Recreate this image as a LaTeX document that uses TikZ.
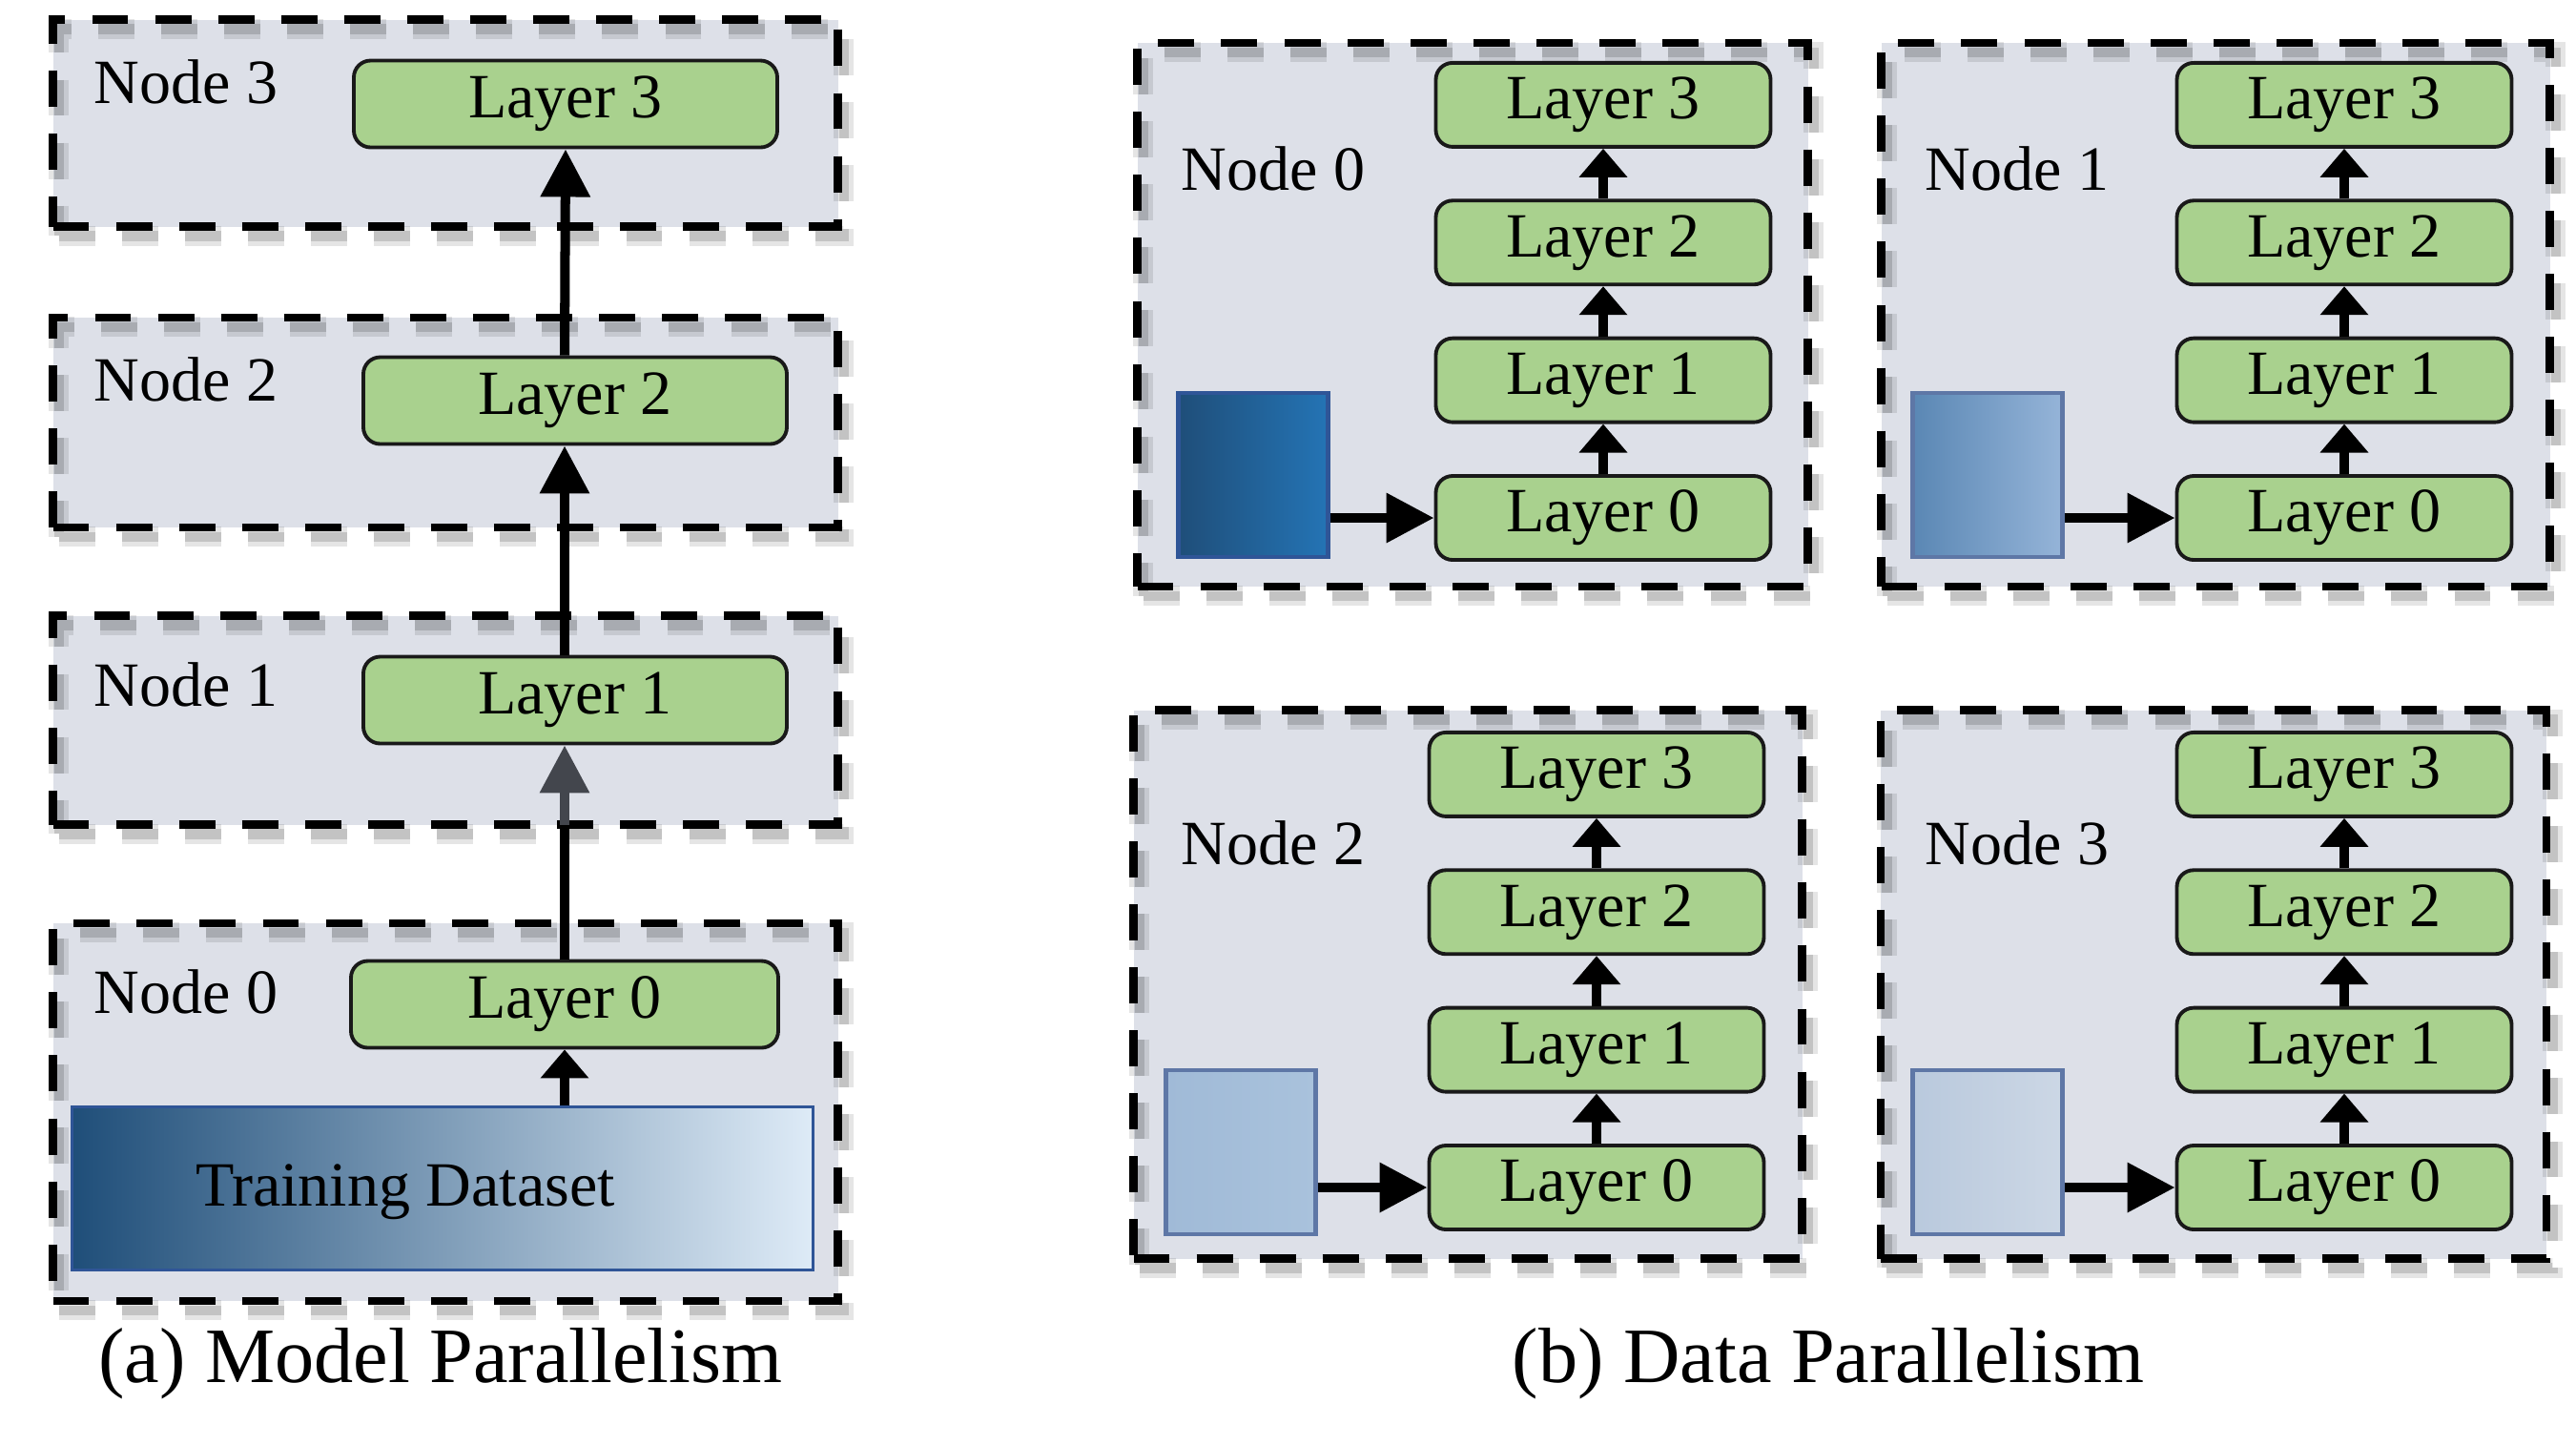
\documentclass[tikz,border=0pt]{standalone}
\usepackage{fontspec}
\setmainfont{Liberation Serif}
\usepackage{xcolor}
\usepackage{tikz}
\usetikzlibrary{arrows.meta}
\usetikzlibrary{calc}
\usetikzlibrary{positioning}
\definecolor{boxgray}{HTML}{DDE0E8}
\definecolor{layergreen}{HTML}{A9D18E}
\definecolor{arrowgray}{HTML}{43464D}
\definecolor{dsdark}{HTML}{1F4E79}
\definecolor{dsmid}{HTML}{9DC3E6}
\definecolor{dslight}{HTML}{DEEBF7}
\definecolor{dsborder}{HTML}{2F5597}
\definecolor{blkborder}{HTML}{5E77A6}
\definecolor{blk0}{HTML}{2474B5}
\definecolor{blk1a}{HTML}{5A87B4}
\definecolor{blk1b}{HTML}{5E8FBF}
\definecolor{blk1c}{HTML}{95B4D8}
\definecolor{blk2a}{HTML}{A0BAD7}
\definecolor{blk2b}{HTML}{A9C2DC}
\definecolor{blk3a}{HTML}{B9C9DD}
\definecolor{blk3b}{HTML}{CCD7E5}
\tikzset{
	parpic/.style = {
		font=\fontsize{18.8}{22}\selectfont, node distance=0.525cm,
	},
	nodebox/.style 2 args = {
		draw=black, line width=2.4pt, dash pattern=on 10.8pt off 8pt,
		preaction={fill=boxgray},
		preaction={draw=black, draw opacity=.1, line width=6pt, dash pattern=on 10.8pt off 8pt,
			transform canvas={shift={(1.8pt,-2.8pt)}}},
		preaction={draw=black, draw opacity=.15, line width=3pt, dash pattern=on 10.8pt off 8pt,
			transform canvas={shift={(1.8pt,-2.8pt)}}},
		minimum width=#1, minimum height=#2, inner sep=0pt,
	},
	layerbox/.style = {
		draw=black!90, fill=layergreen, line width=1.1pt, rounded corners=5pt,
		minimum width=#1, minimum height=0.88cm, inner sep=2pt,
	},
	datablock/.style 2 args = {
		draw=#1, line width=1.2pt, minimum width=1.57cm, minimum height=1.72cm, inner sep=0pt, #2,
	},
	longarrow/.style = {-{Triangle[length=0.5cm,width=0.5cm]}, line width=2.85pt},
	shortarrow/.style = {-{Triangle[length=0.3cm,width=0.49cm]}, line width=2.85pt},
}

\begin{document}
\begin{tikzpicture}[parpic]
	\useasboundingbox (0,0) rectangle (27.01,-15.14);
	% (a) model parallelism
	\node[nodebox={8.23cm}{2.17cm}] (mn3) at (4.67,-1.29) {};
	\node[nodebox={8.23cm}{2.20cm}] (mn2) at (4.67,-4.43) {};
	\node[nodebox={8.23cm}{2.19cm}] (mn1) at (4.67,-7.55) {};
	\node[nodebox={8.23cm}{3.96cm}] (mn0) at (4.67,-11.66) {};
	\node (mt3) at (1.95,-0.86) {Node 3};
	\node (mt2) at (1.95,-3.98) {Node 2};
	\node (mt1) at (1.95,-7.18) {Node 1};
	\node (mt0) at (1.95,-10.40) {Node 0};
	\node[layerbox=4.44cm, minimum height=0.91cm] (ml3) at (5.93,-1.09) {Layer 3};
	\node[layerbox=4.44cm, minimum height=0.91cm] (ml2) at (6.03,-4.20) {Layer 2};
	\node[layerbox=4.44cm, minimum height=0.91cm] (ml1) at (6.03,-7.34) {Layer 1};
	\node[layerbox=4.48cm, minimum height=0.91cm] (ml0) at (5.92,-10.53) {Layer 0};
	\node[draw=dsborder, line width=1.1pt, left color=dsdark, middle color=dsmid, right color=dslight,
		minimum width=7.77cm, minimum height=1.71cm,
		label={[xshift=-0.39cm, yshift=-0.04cm]center:Training Dataset}] (ds) at (4.64,-12.46) {};
	
	\draw[shortarrow] (ds.north -| ml0.south) -- (ml0.south);
	\coordinate (g1) at ($(ml0.north |- mn1.south)+(0,0.04)$);
	\draw[line width=2.85pt] (ml0.north) -- (g1);
	\draw[longarrow, arrowgray] (g1) -- (ml1.south -| ml0.north);
	\draw[longarrow] (ml1.north -| ml0.north) -- (ml2.south -| ml0.north);
	\draw[longarrow] (ml2.north -| ml0.north) -- (ml3.south);
	\node[font=\fontsize{23.4}{28}\selectfont] (capa) at (4.62,-14.30) {(a) Model Parallelism};
	
	% (b) data parallelism
	\node[nodebox={7.03cm}{5.70cm}] (b0) at (15.44,-3.30) {};
	\node[nodebox={7.01cm}{5.70cm}] (b1) at (23.23,-3.30) {};
	\node[nodebox={7.01cm}{5.75cm}] (b2) at (15.39,-10.32) {};
	\node[nodebox={6.98cm}{5.75cm}] (b3) at (23.21,-10.32) {};
	\node (bt0) at (13.35,-1.77) {Node 0};
	\node (bt1) at (21.15,-1.77) {Node 1};
	\node (bt2) at (13.35,-8.84) {Node 2};
	\node (bt3) at (21.15,-8.84) {Node 3};
	\node[datablock={dsborder}{left color=dsdark, middle color=blk0, right color=blk0}] (b0d) at (13.14,-4.98) {};
	\node[datablock={blkborder}{left color=blk1a, middle color=blk1b, right color=blk1c}] (b1d) at (20.84,-4.98) {};
	\node[datablock={blkborder}{left color=blk2a, right color=blk2b}] (b2d) at (13.01,-12.08) {};
	\node[datablock={blkborder}{left color=blk3a, right color=blk3b}] (b3d) at (20.84,-12.08) {};
	
	\node[layerbox=3.51cm] (b0l0) at (16.81,-5.43) {Layer 0};
	\node[layerbox=3.51cm] (b0l1) [above=of b0l0] {Layer 1};
	\node[layerbox=3.51cm] (b0l2) [above=of b0l1] {Layer 2};
	\node[layerbox=3.51cm] (b0l3) [above=of b0l2] {Layer 3};
	\node[layerbox=3.51cm] (b1l0) at (24.58,-5.43) {Layer 0};
	\node[layerbox=3.51cm] (b1l1) [above=of b1l0] {Layer 1};
	\node[layerbox=3.51cm] (b1l2) [above=of b1l1] {Layer 2};
	\node[layerbox=3.51cm] (b1l3) [above=of b1l2] {Layer 3};
	\node[layerbox=3.51cm] (b2l0) at (16.74,-12.45) {Layer 0};
	\node[layerbox=3.51cm] (b2l1) [above=of b2l0] {Layer 1};
	\node[layerbox=3.51cm] (b2l2) [above=of b2l1] {Layer 2};
	\node[layerbox=3.51cm] (b2l3) [above=of b2l2] {Layer 3};
	\node[layerbox=3.51cm] (b3l0) at (24.58,-12.45) {Layer 0};
	\node[layerbox=3.51cm] (b3l1) [above=of b3l0] {Layer 1};
	\node[layerbox=3.51cm] (b3l2) [above=of b3l1] {Layer 2};
	\node[layerbox=3.51cm] (b3l3) [above=of b3l2] {Layer 3};
	
	\draw[longarrow] (b0d.east |- b0l0.west) -- (b0l0.west);
	\draw[longarrow] (b1d.east |- b1l0.west) -- (b1l0.west);
	\draw[longarrow] (b2d.east |- b2l0.west) -- (b2l0.west);
	\draw[longarrow] (b3d.east |- b3l0.west) -- (b3l0.west);
	\draw[shortarrow] (b0l0) edge (b0l1) (b0l1) edge (b0l2) (b0l2) edge (b0l3);
	\draw[shortarrow] (b1l0) edge (b1l1) (b1l1) edge (b1l2) (b1l2) edge (b1l3);
	\draw[shortarrow] (b2l0) edge (b2l1) (b2l1) edge (b2l2) (b2l2) edge (b2l3);
	\draw[shortarrow] (b3l0) edge (b3l1) (b3l1) edge (b3l2) (b3l2) edge (b3l3);
	\node[font=\fontsize{23.4}{28}\selectfont] (capb) at (19.17,-14.30) {(b) Data Parallelism};
\end{tikzpicture}
\end{document}
